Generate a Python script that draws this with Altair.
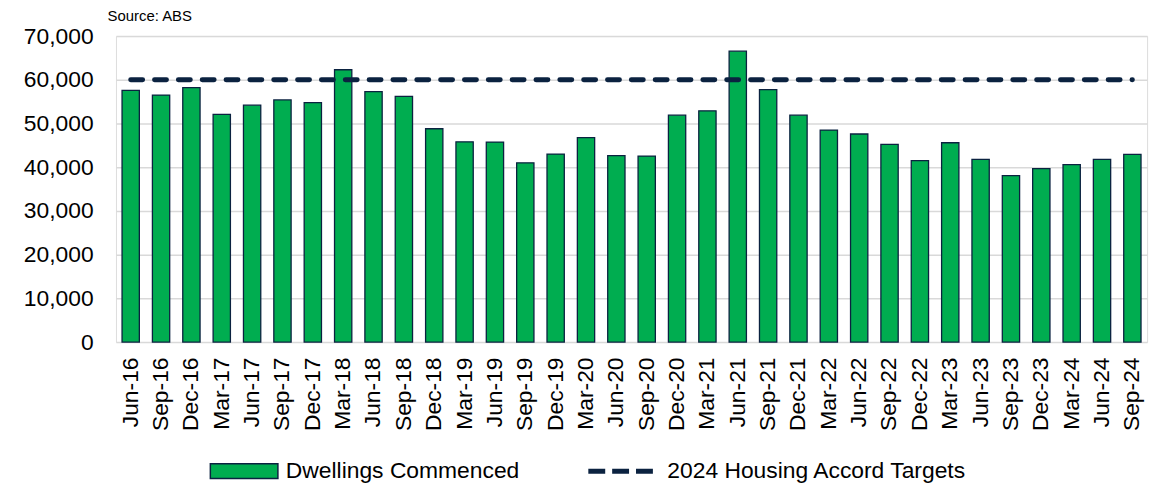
import altair as alt
import pandas as pd

quarters = ["Jun-16", "Sep-16", "Dec-16", "Mar-17", "Jun-17", "Sep-17", "Dec-17",
            "Mar-18", "Jun-18", "Sep-18", "Dec-18", "Mar-19", "Jun-19", "Sep-19",
            "Dec-19", "Mar-20", "Jun-20", "Sep-20", "Dec-20", "Mar-21", "Jun-21",
            "Sep-21", "Dec-21", "Mar-22", "Jun-22", "Sep-22", "Dec-22", "Mar-23",
            "Jun-23", "Sep-23", "Dec-23", "Mar-24", "Jun-24", "Sep-24"]
dwellings = [57600, 56500, 58200, 52100, 54200, 55400, 54800,
             62300, 57300, 56200, 48800, 45800, 45750, 41000,
             43000, 46750, 42650, 42550, 51900, 52900, 66550,
             57750, 51900, 48500, 47600, 45250, 41500, 45600,
             41800, 38100, 39700, 40600, 41800, 42950]
target_value = 60000
y_ticks = [0, 10000, 20000, 30000, 40000, 50000, 60000, 70000]

bar_name = "Dwellings Commenced"
line_name = "2024 Housing Accord Targets"

df = pd.DataFrame({
    "quarter": quarters,
    "dwellings": dwellings,
    "target": [target_value] * len(quarters),
    "s1": bar_name,
    "s2": line_name,
})

GREEN = "#00AD50"
NAVY = "#0B2240"
FONT = "Liberation Sans"

x_enc = alt.X(
    "quarter:N", sort=quarters, title=None,
    scale=alt.Scale(paddingInner=0.43, paddingOuter=0.2),
    axis=alt.Axis(labelAngle=-90, labelAlign="right", labelBaseline="middle",
                  labelFontSize=23, labelColor="black", labelPadding=15,
                  domain=False, ticks=False, grid=False, labelFont=FONT),
)

bars = alt.Chart(df).mark_bar(stroke=NAVY, strokeWidth=1.3).encode(
    x=x_enc,
    y=alt.Y("dwellings:Q", title=None,
            scale=alt.Scale(domain=[0, 70000], nice=False),
            axis=alt.Axis(values=y_ticks, format=",d", labelFontSize=23,
                          labelColor="black", labelPadding=23, domain=False,
                          ticks=False, grid=True, gridColor="#D9D9D9",
                          gridWidth=1.5, labelFont=FONT)),
    fill=alt.Fill("s1:N", scale=alt.Scale(domain=[bar_name], range=[GREEN]),
                  legend=alt.Legend(orient="none", legendX=94, legendY=403,
                                    title=None, labelFontSize=23, labelColor="black",
                                    labelFont=FONT, labelOffset=7, padding=0,
                                    labelLimit=0,
                                    symbolType="M-1,-0.22H1V0.22H-1Z",
                                    symbolSize=4624, symbolStrokeColor=NAVY,
                                    symbolStrokeWidth=1.5)),
)

line = alt.Chart(df).mark_line(strokeWidth=5, strokeCap="round", strokeDash=[12, 12]).encode(
    x=alt.X("quarter:N", sort=quarters),
    y=alt.Y("target:Q"),
    stroke=alt.Stroke("s2:N", scale=alt.Scale(domain=[line_name], range=[NAVY]),
                      legend=alt.Legend(orient="none", legendX=473, legendY=403,
                                        title=None, labelFontSize=23, labelColor="black",
                                        labelFont=FONT, labelOffset=12, padding=0,
                                        labelLimit=0,
                                        symbolType="stroke", symbolSize=4225,
                                        symbolStrokeWidth=5, symbolDash=[17, 7])),
)

chart = alt.layer(bars, line).properties(
    width=1038,
    height=308,
    autosize=alt.AutoSizeParams(type="none"),
    padding={"left": 108.7, "top": 26.7, "right": 14, "bottom": 141},
    title=alt.TitleParams("Source: ABS", anchor="start", frame="group",
                          dx=-8.5, offset=1, fontSize=15, fontWeight="normal",
                          color="black", font=FONT),
).configure_view(stroke=None).configure(font=FONT)

chart.save("out.html", embed_options={"renderer": "svg", "actions": False})
